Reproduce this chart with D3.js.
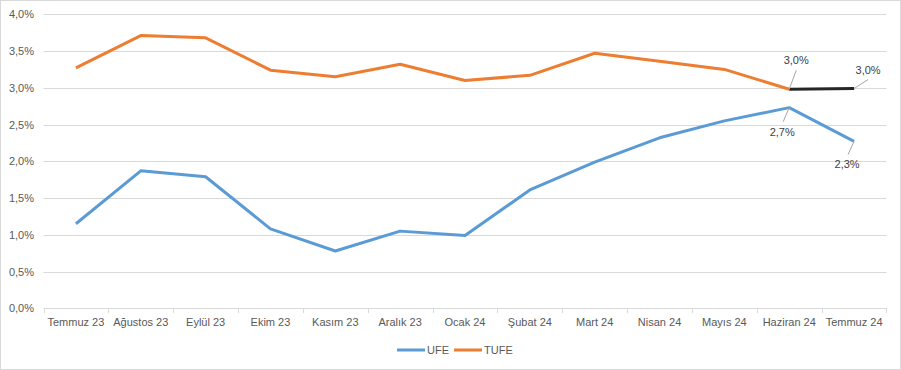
<!DOCTYPE html>
<html>
<head>
<meta charset="utf-8">
<script src="https://cdn.jsdelivr.net/npm/d3@7"></script>
<style>
  body { margin: 0; background: #fff; }
  text { font-family: "Liberation Sans", Arial, sans-serif; fill: #595959; }
</style>
</head>
<body>
<div id="chart"></div>
<script>
// aylar
const months = ["Temmuz 23", "Ağustos 23", "Eylül 23", "Ekim 23", "Kasım 23", "Aralık 23",
  "Ocak 24", "Şubat 24", "Mart 24", "Nisan 24", "Mayıs 24", "Haziran 24", "Temmuz 24"];
// aylık değişim, %
const ufe = [1.15, 1.87, 1.79, 1.08, 0.78, 1.05, 0.99, 1.61, 1.99, 2.32, 2.55, 2.73, 2.27];
const tufe = [3.27, 3.71, 3.68, 3.24, 3.15, 3.32, 3.10, 3.17, 3.47, 3.36, 3.25, 2.98, 2.99];
const yTicks = [0, 0.5, 1, 1.5, 2, 2.5, 3, 3.5, 4];

const width = 901, height = 370;
const fmt = v => v.toFixed(1).replace(".", ",") + "%";

const svg = d3.select("#chart").append("svg")
    .attr("width", width)
    .attr("height", height);

// çerçeve
svg.append("rect")
    .attr("x", 0.5).attr("y", 0.5)
    .attr("width", width - 1).attr("height", height - 1)
    .style("fill", "#fff")
    .style("stroke", "#d9d9d9");

const scaleX = d3.scaleBand()
    .domain(months)
    .range([43.5, 886.5]);

const scaleY = d3.scaleLinear()
    .domain([0, 4])
    .range([308.3, 14.3]);

const cx = m => scaleX(m) + scaleX.bandwidth() / 2;

// ızgara
svg.append("g")
    .selectAll("line")
    .data(yTicks)
    .join("line")
      .attr("x1", 43.5).attr("x2", 886.5)
      .attr("y1", d => Math.round(scaleY(d)) + 0.5)
      .attr("y2", d => Math.round(scaleY(d)) + 0.5)
      .style("stroke", "#d9d9d9");

// y ekseni etiketleri
svg.append("g")
    .selectAll("text")
    .data(yTicks)
    .join("text")
      .attr("x", 34)
      .attr("y", d => scaleY(d) + 4)
      .attr("text-anchor", "end")
      .style("font-size", "11px")
      .text(fmt);

// x ekseni
const xAxis = d3.axisBottom(scaleX).tickSize(0).tickPadding(10);
const gx = svg.append("g")
    .attr("transform", "translate(0," + (Math.round(scaleY(0)) + 0.5) + ")")
    .call(xAxis);
gx.select(".domain").remove();
gx.selectAll("text").style("font-size", "11px").style("fill", "#595959");

// kategori ayraçları
svg.append("g")
    .selectAll("line")
    .data(months.concat(["_end"]))
    .join("line")
      .attr("x1", (d, i) => Math.round(43.5 + i * scaleX.step()) + 0.5)
      .attr("x2", (d, i) => Math.round(43.5 + i * scaleX.step()) + 0.5)
      .attr("y1", Math.round(scaleY(0)))
      .attr("y2", Math.round(scaleY(0)) + 5)
      .style("stroke", "#d9d9d9");

const line = d3.line()
    .x(d => cx(d.m))
    .y(d => scaleY(d.v));

const ufeData = months.map((m, i) => ({m: m, v: ufe[i]}));
const tufeData = months.map((m, i) => ({m: m, v: tufe[i]}));

svg.append("path")
    .attr("d", line(ufeData))
    .style("fill", "none")
    .style("stroke", "#5b9bd5")
    .style("stroke-width", 3)
    .style("stroke-linejoin", "round");

svg.append("path")
    .attr("d", line(tufeData.slice(0, 12)))
    .style("fill", "none")
    .style("stroke", "#ed7d31")
    .style("stroke-width", 3)
    .style("stroke-linejoin", "round");

// son parça siyah
svg.append("path")
    .attr("d", line(tufeData.slice(11)))
    .style("fill", "none")
    .style("stroke", "#262626")
    .style("stroke-width", 3);

// veri etiketleri
const labels = [
  {d: tufeData[11], dx: 7, dy: -29, lx: 7, ly: -19},
  {d: tufeData[12], dx: 14, dy: -19, lx: 14, ly: -9},
  {d: ufeData[11], dx: -7, dy: 24, lx: -6, ly: 14},
  {d: ufeData[12], dx: -7, dy: 23, lx: -6, ly: 13}
];

labels.forEach(l => {
  const x = cx(l.d.m), y = scaleY(l.d.v);
  svg.append("line")
      .attr("x1", x).attr("y1", y)
      .attr("x2", x + l.lx).attr("y2", y + l.ly)
      .style("stroke", "#a6a6a6")
      .style("stroke-width", 1);
  svg.append("text")
      .attr("x", x + l.dx)
      .attr("y", y + l.dy + 4)
      .attr("text-anchor", "middle")
      .style("font-size", "11px")
      .style("fill", "#404040")
      .text(fmt(l.d.v));
});

// lejant
const legend = [
  {name: "UFE", color: "#5b9bd5", x: 397},
  {name: "TUFE", color: "#ed7d31", x: 454}
];
legend.forEach(l => {
  svg.append("line")
      .attr("x1", l.x).attr("x2", l.x + 28)
      .attr("y1", 350).attr("y2", 350)
      .style("stroke", l.color)
      .style("stroke-width", 3);
  svg.append("text")
      .attr("x", l.x + 30)
      .attr("y", 354)
      .style("font-size", "11px")
      .text(l.name);
});
</script>
</body>
</html>
